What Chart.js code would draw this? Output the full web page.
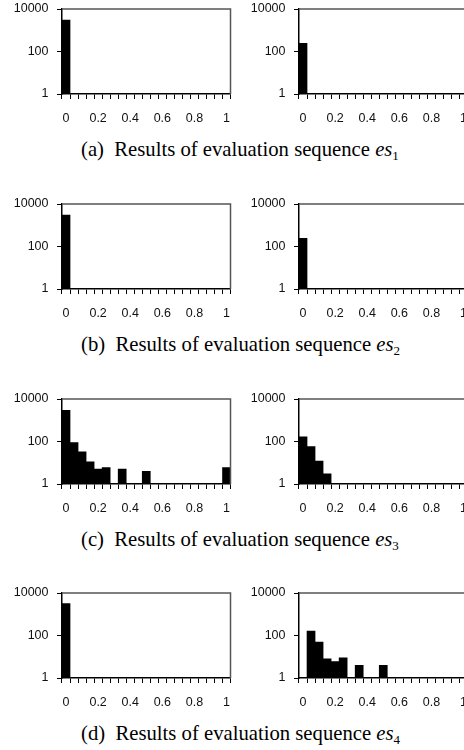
<!DOCTYPE html>
<html>
<head>
<meta charset="utf-8">
<script src="https://cdn.jsdelivr.net/npm/chart.js@4/dist/chart.umd.min.js"></script>
<style>
    html, body { margin:0; padding:0; background:#fff; }
    #page { position:relative; width:464px; height:750px; overflow:hidden; }
    #page canvas { position:absolute; }
    .cap {
        position:absolute; left:81px; white-space:nowrap;
        font-family:"Liberation Serif", "DejaVu Serif", serif;
        font-size:20.7px; line-height:20px; color:#000;
    }
    .cap sub { font-size:13px; vertical-align:-4px; line-height:0; }
</style>
</head>
<body>
<div id="page">
    <canvas id="es1L" width="242" height="131" style="left:0px;top:-7px"></canvas>
    <canvas id="es1R" width="242" height="131" style="left:237px;top:-7px"></canvas>
    <div class="cap" style="top:139px">(a)&nbsp; Results of evaluation sequence <i>es</i><sub>1</sub></div>

    <canvas id="es2L" width="242" height="131" style="left:0px;top:188px"></canvas>
    <canvas id="es2R" width="242" height="131" style="left:237px;top:188px"></canvas>
    <div class="cap" style="top:334px">(b)&nbsp; Results of evaluation sequence <i>es</i><sub>2</sub></div>

    <canvas id="es3L" width="242" height="131" style="left:0px;top:383px"></canvas>
    <canvas id="es3R" width="242" height="131" style="left:237px;top:383px"></canvas>
    <div class="cap" style="top:529px">(c)&nbsp; Results of evaluation sequence <i>es</i><sub>3</sub></div>

    <canvas id="es4L" width="242" height="131" style="left:0px;top:577px"></canvas>
    <canvas id="es4R" width="242" height="131" style="left:237px;top:577px"></canvas>
    <div class="cap" style="top:723px">(d)&nbsp; Results of evaluation sequence <i>es</i><sub>4</sub></div>
</div>

<script>
// 21 bins from 0 to 1, step 0.05
var bins = ['0','0.05','0.1','0.15','0.2','0.25','0.3','0.35','0.4','0.45','0.5',
            '0.55','0.6','0.65','0.7','0.75','0.8','0.85','0.9','0.95','1'];
var yTicks = [1, 100, 10000];

// counts per bin (null = empty bin)
var es1Left  = [3000, null, null, null, null, null, null, null, null, null, null, null, null, null, null, null, null, null, null, null, null];
var es1Right = [240, null, null, null, null, null, null, null, null, null, null, null, null, null, null, null, null, null, null, null, null];
var es2Left  = [3000, null, null, null, null, null, null, null, null, null, null, null, null, null, null, null, null, null, null, null, null];
var es2Right = [240, null, null, null, null, null, null, null, null, null, null, null, null, null, null, null, null, null, null, null, null];
var es3Left  = [2900, 90, 33, 11, 5, 6, null, 5, null, null, 4, null, null, null, null, null, null, null, null, null, 6];
var es3Right = [165, 58, 12, 3, null, null, null, null, null, null, null, null, null, null, null, null, null, null, null, null, null];
var es4Left  = [3200, null, null, null, null, null, null, null, null, null, null, null, null, null, null, null, null, null, null, null, null];
var es4Right = [null, 163, 49, 8, 6, 9, null, 4, null, null, 4, null, null, null, null, null, null, null, null, null, null];

// grey frame on the top and right of the plot
var frameBorder = {
    id:'frameBorder',
    afterDraw:function(chart) {
        var ctx = chart.ctx;
        var a = chart.chartArea;
        var r = Math.round(a.right) - 0.5;
        var t = Math.round(a.top);
        ctx.save();
        ctx.strokeStyle = '#555';
        ctx.lineWidth = 1.5;
        ctx.beginPath();
        ctx.moveTo(a.left, t);
        ctx.lineTo(r, t);
        ctx.lineTo(r, a.bottom);
        ctx.stroke();
        ctx.restore();
    }
};

function makeChart(id, values) {
    return new Chart(document.getElementById(id), {
        type:'bar',
        plugins:[frameBorder],
        data:{
            labels:bins,
            datasets:[{
                data:values,
                backgroundColor:'#000',
                borderWidth:0,
                barPercentage:1,
                categoryPercentage:1
            }]
        },
        options:{
            responsive:false,
            animation:false,
            layout:{ padding:0 },
            plugins:{ legend:{ display:false }, tooltip:{ enabled:false } },
            scales:{
                x:{
                    grid:{ drawOnChartArea:false, color:'#000', tickLength:5, offset:true },
                    border:{ color:'#000', width:1.5 },
                    ticks:{
                        autoSkip:false, maxRotation:0, padding:12, color:'#111',
                        font:{ family:'"Liberation Sans", Arial, sans-serif', size:12.5 },
                        callback:function(v, i) { return i % 4 === 0 ? bins[i] : ''; }
                    },
                    afterFit:function(s) { s.height = 30; }
                },
                y:{
                    type:'logarithmic',
                    min:1,
                    max:10000,
                    grid:{ drawOnChartArea:false, color:'#000', tickLength:5 },
                    border:{ color:'#000', width:1.5 },
                    afterBuildTicks:function(s) {
                        s.ticks = yTicks.map(function(v) { return { value:v }; });
                    },
                    ticks:{
                        padding:8.5, color:'#111',
                        font:{ family:'"Liberation Sans", Arial, sans-serif', size:12.5 },
                        callback:function(v) { return String(v); }
                    },
                    afterFit:function(s) { s.width = 62; }
                }
            }
        }
    });
}

makeChart('es1L', es1Left);
makeChart('es1R', es1Right);
makeChart('es2L', es2Left);
makeChart('es2R', es2Right);
makeChart('es3L', es3Left);
makeChart('es3R', es3Right);
makeChart('es4L', es4Left);
makeChart('es4R', es4Right);
</script>
</body>
</html>
